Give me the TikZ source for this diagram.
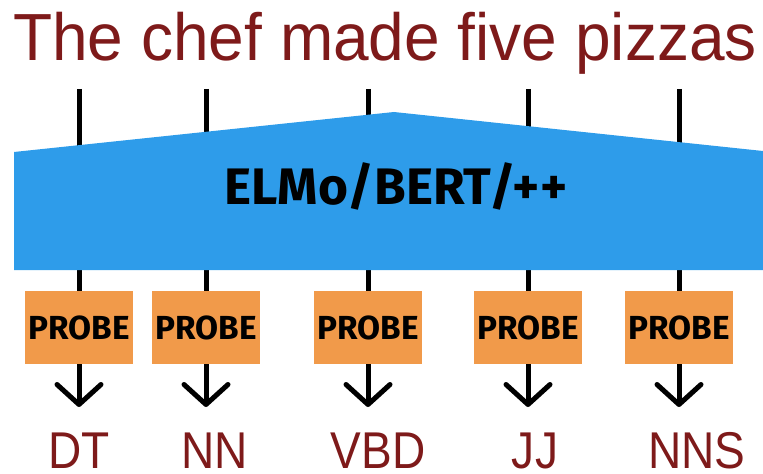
\documentclass[tikz,border=0pt]{standalone}
\usepackage{fontspec}
\setmainfont{Liberation Sans}
\newfontfamily\probefont{Fira Sans}
\usetikzlibrary{arrows.meta}
\definecolor{wordred}{HTML}{7E1A1A}
\definecolor{modelblue}{HTML}{2E9CEA}
\definecolor{probeorange}{HTML}{F19A4A}
\begin{document}
\begin{tikzpicture}[x=0.75pt,y=-0.75pt,
  wire/.style={line width=3.75pt},
  outarrow/.style={wire,-{Straight Barb[length=15pt,width=33pt,round]}},
  probebox/.style={fill=probeorange,minimum width=81pt,minimum height=54.75pt,
    inner sep=0pt,font=\probefont\bfseries\fontsize{25}{25}\selectfont},
  tag/.style={text=wordred,anchor=base,inner sep=0pt,
    font=\fontsize{38.8}{40}\selectfont},
  sentence/.style={text=wordred,anchor=base,inner sep=0pt,
    font=\fontsize{50}{52}\selectfont},
  modelname/.style={inner sep=0pt,font=\probefont\bfseries\fontsize{38.5}{40}\selectfont}
]
\useasboundingbox (0,0) rectangle (763,474);

% input sentence
\node[sentence] (sent) at (385,61) {\scalebox{0.96}[1]{The chef made five pizzas}};

% word positions feeding the encoder
\foreach \i/\x in {1/79,2/206,3/368,4/528,5/679}{
  \coordinate (w\i) at (\x,89);
  \coordinate (o\i) at (\x,407);
}

% probes
\node[probebox] (p1) at (79,327.5)  {PROBE};
\node[probebox] (p2) at (206,327.5) {PROBE};
\node[probebox] (p3) at (368,327.5) {PROBE};
\node[probebox] (p4) at (528,327.5) {PROBE};
\node[probebox] (p5) at (679,327.5) {PROBE};

% wires from the words through the encoder into the probes
\foreach \i in {1,...,5}{
  \draw[wire] (w\i) -- (p\i.north);
}

% contextual encoder
\fill[modelblue] (14,152) -- (394,112) -- (763,151) -- (763,270) -- (14,270) -- cycle;
\node[modelname] (enc) at (396,186) {ELMo/BERT/++};

% probe outputs
\foreach \i in {1,...,5}{
  \draw[outarrow] (p\i.south) -- (o\i);
}

% predicted tags
\node[tag] (t1) at (79,468)  {\scalebox{0.89}[1]{DT}};
\node[tag] (t2) at (215,468) {\scalebox{0.89}[1]{NN}};
\node[tag] (t3) at (378,468) {\scalebox{0.89}[1]{VBD}};
\node[tag] (t4) at (535,468) {\scalebox{0.89}[1]{JJ}};
\node[tag] (t5) at (697,468) {\scalebox{0.89}[1]{NNS}};
\end{tikzpicture}
\end{document}
